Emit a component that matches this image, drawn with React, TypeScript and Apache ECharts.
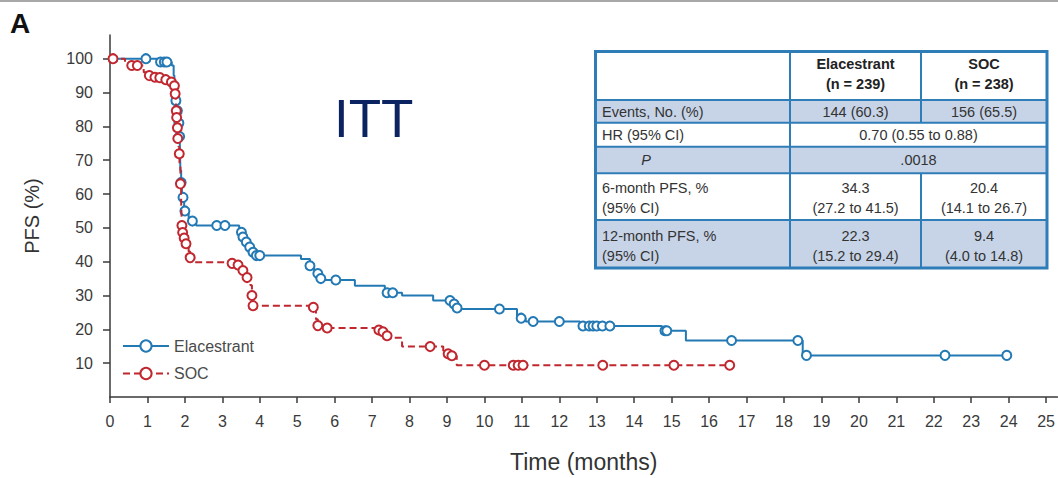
import React, { useEffect, useRef } from "react";
import * as echarts from "echarts";

// ---- data ----
const xTicks = [0, 1, 2, 3, 4, 5, 6, 7, 8, 9, 10, 11, 12, 13, 14, 15, 16, 17, 18, 19, 20, 21, 22, 23, 24, 25];
const yTicks = [10, 20, 30, 40, 50, 60, 70, 80, 90, 100];

// [time (months), PFS (%), censored (1) / event (0)]
const elacestrant: [number, number, number][] = [
  [0, 100, 0], [0.96, 100, 1], [1.25, 99, 0], [1.35, 99, 1], [1.45, 99, 1], [1.52, 99, 1],
  [1.65, 98, 0], [1.7, 95, 0], [1.72, 92, 0], [1.74, 89, 0], [1.76, 87.6, 1], [1.78, 86, 0],
  [1.8, 84.6, 1], [1.82, 82, 0], [1.84, 81, 1], [1.86, 77, 1], [1.87, 72, 0], [1.88, 67, 0],
  [1.9, 63.4, 1], [1.92, 60, 0], [1.95, 59, 1], [1.98, 56, 0], [2.0, 55, 1], [2.1, 53, 0],
  [2.2, 52, 1], [2.3, 50.7, 0], [2.85, 50.7, 1], [3.07, 50.7, 1], [3.45, 49.5, 0], [3.51, 48.7, 1],
  [3.55, 47.3, 1], [3.64, 45.8, 1], [3.73, 44.3, 1], [3.82, 42.8, 1], [3.91, 41.8, 1], [4.0, 41.8, 1],
  [5.1, 40.8, 0], [5.34, 38.8, 1], [5.45, 37.5, 0], [5.55, 36.5, 1], [5.63, 35, 1], [5.7, 34.6, 0],
  [6.03, 34.6, 1], [6.54, 32.9, 0], [7.34, 31, 0], [7.4, 30.8, 1], [7.55, 30.8, 1], [7.8, 30, 0],
  [8.63, 28.5, 0], [9.08, 28.5, 1], [9.15, 27.5, 0], [9.19, 27.5, 1], [9.25, 26.3, 0], [9.27, 26.3, 1],
  [9.35, 26, 0], [10.4, 26, 1], [10.87, 23.6, 0], [10.98, 23.3, 1], [11.1, 22.3, 0], [11.3, 22.3, 1],
  [12.0, 22.3, 1], [12.55, 21, 0], [12.63, 21, 1], [12.8, 21, 1], [12.9, 21, 1], [13.0, 21, 1],
  [13.15, 21, 1], [13.35, 21, 1], [14.74, 19.9, 0], [14.82, 19.6, 1], [14.87, 19.6, 1],
  [15.38, 16.7, 0], [16.6, 16.7, 1], [18.37, 16.7, 1], [18.5, 12.3, 0], [18.6, 12.3, 1],
  [22.3, 12.3, 1], [23.95, 12.3, 1],
];

const soc: [number, number, number][] = [
  [0, 100, 0], [0.08, 100, 1], [0.4, 98.8, 0], [0.58, 98, 1], [0.73, 98, 1], [0.9, 96, 0],
  [1.05, 95, 1], [1.15, 94.6, 0], [1.2, 94.5, 1], [1.33, 94.4, 1], [1.4, 93.8, 0], [1.49, 93.8, 1],
  [1.6, 93.1, 0], [1.64, 93.1, 1], [1.72, 92, 1], [1.74, 89.6, 1], [1.76, 87, 0], [1.77, 84.6, 1],
  [1.78, 82.6, 1], [1.8, 79.6, 1], [1.81, 76.4, 1], [1.83, 74, 0], [1.85, 71.9, 1], [1.86, 68, 0],
  [1.88, 63, 1], [1.9, 58, 0], [1.91, 54, 0], [1.92, 50.7, 1], [1.94, 48.6, 1], [1.98, 47, 1],
  [2.03, 45.3, 1], [2.1, 43, 0], [2.14, 41.2, 1], [2.25, 39.8, 0], [3.2, 39.5, 0], [3.26, 39.5, 1],
  [3.35, 39, 0], [3.42, 39, 1], [3.5, 38, 0], [3.55, 37.4, 1], [3.62, 36, 0], [3.66, 35.3, 1],
  [3.75, 33, 0], [3.79, 30, 1], [3.82, 27, 1], [5.35, 26.5, 0], [5.43, 26.5, 1], [5.5, 23, 0],
  [5.55, 21.1, 1], [5.7, 20.4, 0], [5.8, 20.4, 1], [7.16, 19.8, 0], [7.18, 19.8, 1], [7.29, 19.3, 1],
  [7.35, 18.5, 0], [7.4, 18.1, 1], [7.5, 17.5, 0], [7.8, 14.9, 0], [8.55, 14.9, 1], [8.9, 13.2, 0],
  [9.03, 12.8, 1], [9.1, 12.2, 0], [9.13, 12.2, 1], [9.26, 9.4, 0], [10.0, 9.4, 1], [10.77, 9.4, 1],
  [10.9, 9.4, 1], [11.03, 9.4, 1], [13.16, 9.4, 1], [15.06, 9.4, 1], [16.55, 9.4, 1],
];

const tableHeaderElac = "Elacestrant\n(n = 239)";
const tableHeaderSoc = "SOC\n(n = 238)";
const tableRowLabels = ["Events, No. (%)", "HR (95% CI)", "P", "6-month PFS, %\n(95% CI)", "12-month PFS, %\n(95% CI)"];
const tableElac = ["144 (60.3)", "0.70 (0.55 to 0.88)", ".0018", "34.3\n(27.2 to 41.5)", "22.3\n(15.2 to 29.4)"];
const tableSoc = ["156 (65.5)", "", "", "20.4\n(14.1 to 26.7)", "9.4\n(4.0 to 14.8)"];

const BLUE = "#2379b4";
const RED = "#c0272f";
const FONT = "'Liberation Sans', Arial, sans-serif";

function toData(arr: [number, number, number][]) {
  return arr.map(([t, v, c]) => ({ value: [t, v], symbol: c ? "emptyCircle" : "none" }));
}

function buildTable(): any[] {
  const x0 = 595.5, x1 = 790, x2 = 921, x3 = 1047;
  const ys = [51.5, 100, 122.7, 146.7, 173.3, 220, 268];
  const border = "#2f7db7";
  const shade = "#c7d4e8";
  const els: any[] = [];
  for (let i = 0; i < 6; i++) {
    els.push({
      type: "rect",
      shape: { x: x0, y: ys[i], width: x3 - x0, height: ys[i + 1] - ys[i] },
      style: { fill: i % 2 === 1 ? shade : "#ffffff" },
      z: 10,
    });
  }
  for (let i = 1; i < 6; i++) {
    els.push({
      type: "line",
      shape: { x1: x0, y1: ys[i], x2: x3, y2: ys[i] },
      style: { stroke: border, lineWidth: 2 },
      z: 11,
    });
  }
  els.push({ type: "line", shape: { x1: x1, y1: ys[0], x2: x1, y2: ys[6] }, style: { stroke: border, lineWidth: 2 }, z: 11 });
  els.push({ type: "line", shape: { x1: x2, y1: ys[0], x2: x2, y2: ys[2] }, style: { stroke: border, lineWidth: 2 }, z: 11 });
  els.push({ type: "line", shape: { x1: x2, y1: ys[4], x2: x2, y2: ys[6] }, style: { stroke: border, lineWidth: 2 }, z: 11 });
  els.push({
    type: "rect",
    shape: { x: x0, y: ys[0], width: x3 - x0, height: ys[6] - ys[0] },
    style: { fill: "none", stroke: border, lineWidth: 3 },
    z: 12,
  });
  const txt = (text: string, x: number, y: number, align: string, extra: any = {}) => ({
    type: "text",
    x,
    y,
    z: 13,
    style: {
      text,
      fill: "#333333",
      fontFamily: FONT,
      fontSize: 14.5,
      lineHeight: 20,
      textAlign: align,
      textVerticalAlign: "middle",
      ...extra,
    },
  });
  const c1 = (x1 + x2) / 2, c2 = (x2 + x3) / 2, c12 = (x1 + x3) / 2;
  els.push(txt(tableHeaderElac, c1, 74, "center", { fontWeight: "bold", fill: "#222" }));
  els.push(txt(tableHeaderSoc, c2, 74, "center", { fontWeight: "bold", fill: "#222" }));
  const centers = [111.5, 135, 160, 198, 246];
  for (let i = 0; i < 5; i++) {
    if (i === 2) {
      els.push(txt(tableRowLabels[i], 646, centers[i], "center", { fontStyle: "italic" }));
    } else {
      els.push(txt(tableRowLabels[i], 602, centers[i], "left"));
    }
    if (tableSoc[i] === "") {
      els.push(txt(tableElac[i], c12, centers[i], "center"));
    } else {
      els.push(txt(tableElac[i], c1, centers[i], "center"));
      els.push(txt(tableSoc[i], c2, centers[i], "center"));
    }
  }
  return els;
}

export default function App() {
  const ref = useRef<HTMLDivElement>(null);
  useEffect(() => {
    if (!ref.current) return;
    const chart = echarts.init(ref.current, null, { renderer: "svg" });
    chart.setOption({
      animation: false,
      backgroundColor: "#ffffff",
      grid: { left: 110, right: 0, top: 35, bottom: 81 },
      legend: {
        orient: "vertical",
        left: 122,
        top: 338,
        padding: 0,
        itemWidth: 46,
        itemHeight: 14,
        itemGap: 11.5,
        textStyle: { fontFamily: FONT, fontSize: 16, color: "#4a4a4a" },
        data: ["Elacestrant", "SOC"],
      },
      xAxis: {
        type: "value",
        min: 0,
        max: 25.3,
        name: "Time (months)",
        nameLocation: "middle",
        nameGap: 53,
        nameTextStyle: { fontFamily: FONT, fontSize: 23, color: "#333" },
        axisLine: { show: true, lineStyle: { color: "#3a3a3a", width: 1.5 } },
        axisTick: { show: true, length: 6, customValues: xTicks, lineStyle: { color: "#3a3a3a", width: 1.5 } },
        axisLabel: { customValues: xTicks, margin: 16, fontFamily: FONT, fontSize: 16, color: "#3a3a3a" },
        splitLine: { show: false },
      },
      yAxis: {
        type: "value",
        min: 0,
        max: 107,
        name: "PFS (%)",
        nameLocation: "middle",
        nameGap: 68,
        nameTextStyle: { fontFamily: FONT, fontSize: 20, color: "#333" },
        axisLine: { show: true, lineStyle: { color: "#3a3a3a", width: 1.5 } },
        axisTick: { show: true, length: 7, customValues: yTicks, lineStyle: { color: "#3a3a3a", width: 1.5 } },
        axisLabel: { customValues: yTicks, margin: 17, fontFamily: FONT, fontSize: 16, color: "#3a3a3a" },
        splitLine: { show: false },
      },
      series: [
        {
          name: "Elacestrant",
          type: "line",
          step: "end",
          data: toData(elacestrant),
          symbol: "emptyCircle",
          symbolSize: 9,
          showSymbol: true,
          lineStyle: { color: BLUE, width: 2 },
          itemStyle: { color: BLUE, borderColor: BLUE, borderWidth: 1.5 },
          z: 3,
        },
        {
          name: "SOC",
          type: "line",
          step: "end",
          data: toData(soc),
          symbol: "emptyCircle",
          symbolSize: 9,
          showSymbol: true,
          lineStyle: { color: RED, width: 2, type: [7, 4] },
          itemStyle: { color: RED, borderColor: RED, borderWidth: 1.5 },
          z: 4,
        },
      ],
      graphic: [
        { type: "rect", shape: { x: 0, y: 0, width: 1058, height: 2 }, style: { fill: "#a8a8a8" } },
        {
          type: "text",
          x: 10,
          y: 23,
          style: { text: "A", fontFamily: FONT, fontSize: 28, fontWeight: "bold", fill: "#111", textVerticalAlign: "middle" },
        },
        {
          type: "text",
          x: 334,
          y: 118,
          style: { text: "ITT", fontFamily: FONT, fontSize: 53, fill: "#0b2461", textVerticalAlign: "middle" },
        },
        ...buildTable(),
      ],
    });
    return () => chart.dispose();
  }, []);
  return (
    <div
      ref={ref}
      style={{ position: "fixed", left: 0, top: 0, width: 1058, height: 478, background: "#fff" }}
    />
  );
}
